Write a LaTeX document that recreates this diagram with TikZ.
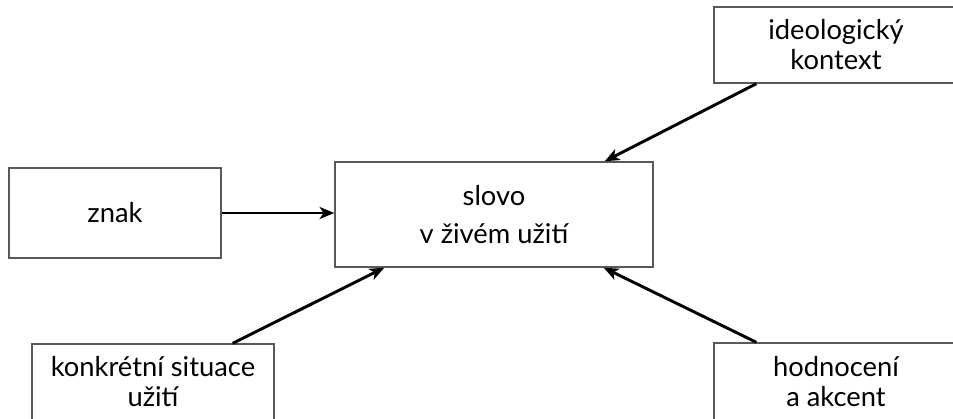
\documentclass[tikz,border=0pt]{standalone}
\usepackage{fontspec}
\setmainfont{Lato}
\usetikzlibrary{arrows.meta,calc}
\begin{document}
\begin{tikzpicture}[x=0.75pt,y=-0.75pt,
  box/.style={draw=black!65,line width=1.1pt,inner sep=0pt,align=center,
    font=\fontsize{20.5}{22.5}\selectfont},
  conn/.style={line width=2.2pt,black,-{Stealth[length=11pt,width=9pt,inset=3pt]}}]
\useasboundingbox (0,0) rectangle (953,418);
\clip (0,0) rectangle (953,418);
\node[box,minimum width=318*0.75pt,minimum height=105*0.75pt] (main) at (494,214.5) {\raisebox{-3pt}{slovo}\\[6pt]\raisebox{-3pt}{v živém užití}};
\node[box,minimum width=212*0.75pt,minimum height=90*0.75pt] (znak) at (115,213) {znak};
\node[box,minimum width=244*0.75pt,minimum height=76*0.75pt] (ideo) at (836,45) {ideologický\\kontext};
\node[box,minimum width=242*0.75pt,minimum height=76*0.75pt] (konk) at (153,382) {konkrétní situace\\užití};
\node[box,minimum width=244*0.75pt,minimum height=77*0.75pt] (hodn) at (836,381.5) {hodnocení\\a akcent};
\coordinate (ia) at ($(ideo.south west)+(43,0)$);
\coordinate (ib) at ($(main.north east)+(-49,0)$);
\coordinate (ka) at ($(konk.north east)+(-42,0)$);
\coordinate (kb) at ($(main.south west)+(50,0)$);
\coordinate (ha) at ($(hodn.north west)+(43,0)$);
\coordinate (hb) at ($(main.south east)+(-50,0)$);
\draw[conn] (znak.east) -- (znak.east -| main.west);
\draw[conn] (ia) -- (ib);
\draw[conn] (ka) -- (kb);
\draw[conn] (ha) -- (hb);
\end{tikzpicture}
\end{document}
